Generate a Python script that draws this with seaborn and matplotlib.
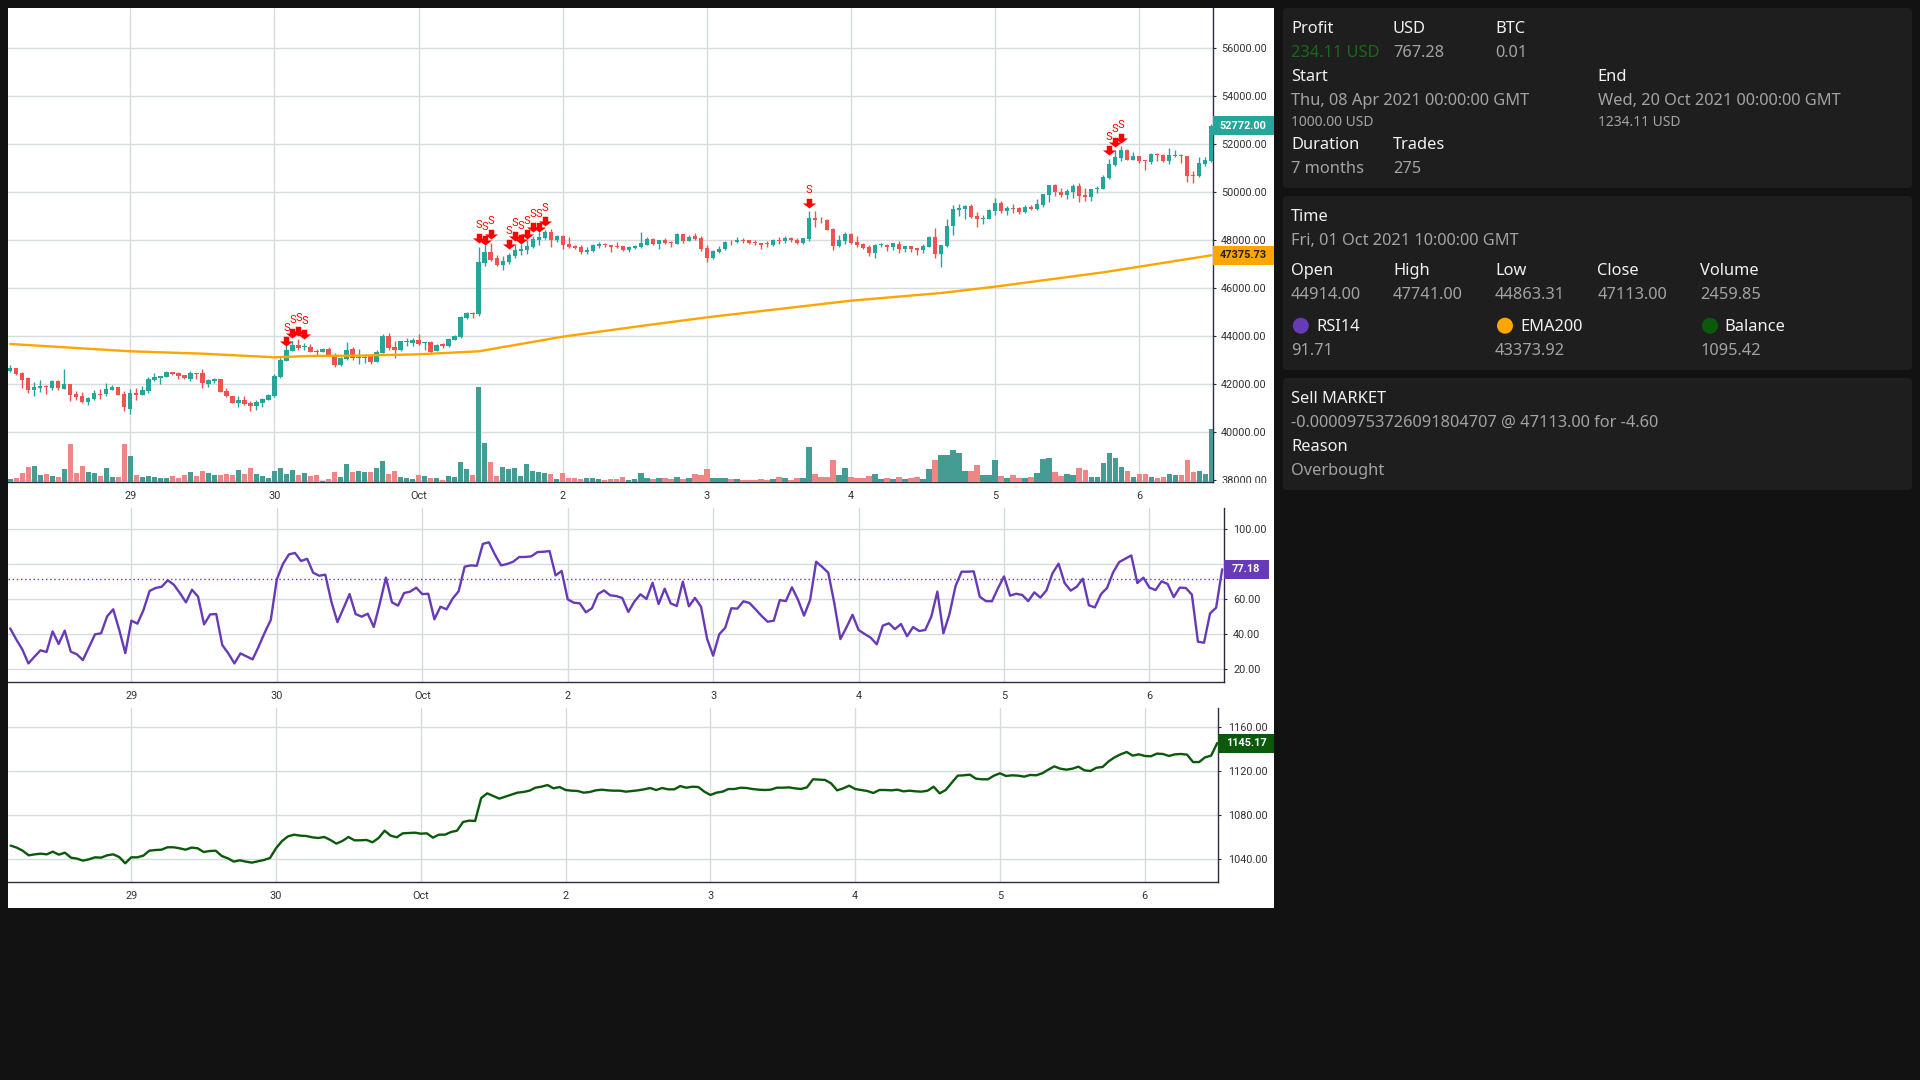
import numpy as np
import pandas as pd
import seaborn as sns
import matplotlib.pyplot as plt
from matplotlib.path import Path
from matplotlib.patches import Rectangle, FancyBboxPatch, Circle
from matplotlib.transforms import Bbox, IdentityTransform

# hourly candles, Sep 28 04:00 to Oct 6 12:00
opens = [
    42540,42680,42490,42260,41760,41860,41930,41850,42150,41820,
    42010,41600,41510,41260,41390,41600,41600,41760,41890,41600,
    40990,41640,41560,41720,42180,42280,42310,42510,42470,42390,
    42220,42470,42470,42010,42140,42220,41720,41510,41220,41350,
    41220,41100,41220,41350,41510,42310,42970,43390,43640,43570,
    43560,43400,43350,43470,43220,42800,43060,43470,43100,43100,
    43180,42930,43300,44010,43560,43430,43750,43730,43830,43720,
    43760,43390,43680,43600,43850,43970,44760,44970,44914,47050,
    47510,47260,46970,47100,47350,47570,47600,47720,48010,48100,
    48350,48010,48180,47850,47760,47720,47510,47550,47760,47850,
    47800,47760,47760,47600,47690,47720,47800,48050,47850,48010,
    47930,47850,48260,47970,48180,48100,47680,47260,47510,47640,
    47940,47930,48010,48010,47930,47890,47870,47800,48000,47970,
    48100,48010,47890,48050,48930,48860,48850,48470,47760,47970,
    48260,47930,47850,47720,47470,47790,47800,47720,47850,47640,
    47760,47680,47600,47720,48140,47430,47760,48600,49260,49300,
    49430,49010,48890,48890,49220,49550,49220,49360,49350,49180,
    49390,49300,49470,49890,50300,50010,49890,50010,50260,49890,
    49800,50140,50140,50600,51140,51430,51760,51350,51510,51350,
    51260,51600,51550,51300,51530,51550,51510,50700,50680,51180,
    51300]
closes = [
    42680,42440,42190,41760,41890,41930,41880,42150,41860,42010,
    41560,41470,41260,41430,41640,41570,41800,41890,41560,41060,
    41640,41560,41760,42220,42310,42350,42510,42440,42350,42280,
    42470,42420,42060,42180,42210,41680,41510,41220,41350,41180,
    41100,41260,41390,41560,42350,43010,43430,43640,43510,43610,
    43350,43360,43470,43220,42800,43100,43430,43100,43150,43150,
    42930,43350,44010,43510,43430,43800,43790,43850,43680,43760,
    43350,43640,43600,43890,44010,44800,44970,44930,47113,47510,
    47180,46970,47140,47390,47600,47640,47760,48050,48140,48350,
    48010,48180,47800,47720,47680,47510,47600,47800,47850,47790,
    47740,47720,47600,47720,47760,47890,48050,47850,48010,47890,
    47890,48260,47970,48140,48050,47640,47260,47550,47640,47930,
    47920,48010,47970,47890,47890,47820,47850,48010,47970,48100,
    48010,47890,48100,48930,48850,48830,48430,47760,48010,48260,
    47890,47800,47680,47470,47800,47850,47720,47890,47640,47760,
    47640,47610,47760,48140,47430,47800,48600,49300,49350,49430,
    48970,48890,48920,49260,49550,49220,49350,49320,49180,49390,
    49300,49510,49930,50300,50010,49890,50050,50260,49850,49800,
    50140,50180,50640,51180,51470,51760,51350,51510,51300,51300,
    51600,51550,51300,51550,51570,51510,50680,50680,51220,51350,
    52772]
highs = [
    42800,42680,42530,42320,42110,42180,41960,42190,42180,42640,
    42010,41720,41680,41460,41760,41790,42060,41960,41890,41720,
    41800,41830,41930,42320,42470,42350,42560,42510,42510,42390,
    42560,42470,42640,42220,42250,42220,41830,41510,41510,41510,
    41290,41350,41440,41600,42430,43180,43640,43800,43890,43740,
    43680,43490,43510,43560,43310,43140,43760,43560,43470,43260,
    43260,43430,44100,44140,43800,43800,43920,43930,44100,43760,
    43800,43680,43710,43930,44050,44850,45010,45010,47741,47800,
    47890,47390,47350,47470,47850,47850,48010,48180,48350,48430,
    48470,48220,48220,48140,47800,47800,47720,47850,47930,47890,
    47800,47930,47760,47760,47800,48350,48140,48100,48010,48100,
    47970,48300,48260,48220,48300,48180,47800,47600,47760,47970,
    48010,48140,48100,48010,48010,47890,47970,48050,48140,48180,
    48140,48100,48100,49220,49220,48970,48890,48510,48220,48350,
    48300,48180,47890,47800,47850,47890,47850,47890,47970,47760,
    47760,47680,47850,48180,48510,47800,48890,49470,49510,49470,
    49510,49180,49050,49300,49760,49640,49430,49510,49390,49470,
    49470,49720,49930,50300,50350,50180,50140,50350,50390,50180,
    50140,50260,50720,51390,51760,51930,51800,51680,51510,51350,
    51640,51640,51600,51850,51760,51600,51510,50890,51470,51470,
    52850]
lows = [
    42510,42400,41860,41650,41530,41690,41610,41760,41760,41790,
    41320,41350,41240,41140,41350,41380,41530,41760,41560,40890,
    40760,41360,41560,41650,42130,42010,42310,42390,42220,42210,
    42140,42220,41860,41890,42070,41680,41460,41220,41070,41140,
    40900,40930,41070,41350,41460,42260,42970,43390,43430,43430,
    43350,43220,43350,43220,42720,42760,43010,43010,42850,42890,
    42850,42930,43310,43430,43100,43400,43610,43610,43640,43430,
    43300,43370,43510,43550,43850,43930,44730,44780,44863.31,46930,
    47140,46930,46760,47010,47260,47390,47430,47680,47800,48050,
    47720,47930,47640,47680,47640,47430,47430,47510,47680,47720,
    47510,47680,47550,47510,47640,47680,47800,47800,47640,47850,
    47720,47850,47890,47970,48010,47550,47100,47220,47470,47600,
    47800,47890,47890,47850,47800,47640,47720,47760,47850,47890,
    47930,47850,47850,47970,48550,48720,48430,47600,47720,47850,
    47850,47720,47640,47350,47260,47720,47550,47600,47470,47510,
    47510,47390,47470,47720,47260,46890,47720,48220,49010,48890,
    48930,48550,48680,48890,49050,49140,49050,49140,49100,49140,
    49260,49260,49390,49600,49850,49800,49720,49760,49600,49640,
    49640,49970,50140,50550,51100,51300,51350,51350,51220,50930,
    51180,51300,51260,51180,51470,51220,50430,50390,50640,51100,
    51260]
volumes = [
    69,95,225,381,407,173,199,147,121,329,
    979,225,407,251,225,147,355,121,121,979,
    667,173,121,147,121,95,95,147,95,173,
    251,147,277,225,173,173,199,173,303,199,
    355,199,147,95,277,355,199,303,173,225,
    147,173,26,69,251,121,459,251,277,251,
    251,355,537,199,277,121,95,69,173,147,
    95,95,43,147,121,511,329,173,2459.85,1005,
    511,147,381,329,355,147,459,277,251,225,
    199,69,225,95,95,69,95,95,69,43,
    78,78,130,52,78,234,104,78,104,104,
    78,130,78,104,208,182,338,104,104,104,
    78,78,52,52,52,78,52,78,130,104,
    52,104,104,909,208,130,130,572,182,364,
    130,104,104,156,208,78,104,78,130,78,
    104,130,78,338,572,701,701,831,753,286,
    286,442,182,182,572,156,104,182,104,104,
    130,234,598,624,260,156,208,182,364,312,
    130,130,494,753,624,390,286,130,208,208,
    130,104,130,208,182,182,572,260,286,208,
    1377]
rsi = [
    43.4,37.1,31.4,23.4,27.2,30.9,29.9,41.7,34.5,42.1,
    30.1,28.6,25.3,32.6,40.0,40.6,50.3,54.3,42.5,29.3,
    47.8,46.1,53.9,64.8,66.5,67.2,70.9,68.4,63.6,58.3,
    65.5,61.5,45.7,51.4,51.6,33.9,29.1,23.4,29.1,27.4,
    25.7,33.0,41.0,48.2,71.4,80.2,85.7,86.5,81.9,83.2,
    75.2,73.5,74.1,58.7,47.0,54.9,63.0,51.6,50.1,51.8,
    44.2,57.7,72.4,58.3,56.4,63.6,64.4,66.7,63.0,63.2,
    48.6,55.8,54.3,60.4,64.6,78.7,79.4,79.2,91.71,92.6,
    85.5,79.4,80.2,81.5,84.2,84.2,84.6,87.0,87.2,87.6,
    73.7,76.2,60.0,58.1,57.7,52.6,54.9,63.0,65.1,62.3,
    61.9,60.8,52.8,58.7,62.9,60.2,69.5,57.3,66.1,57.7,
    56.2,70.1,56.0,60.8,55.8,37.5,27.8,40.0,43.8,54.9,
    54.7,58.9,57.9,54.3,50.5,47.2,47.8,59.6,59.0,66.9,
    59.8,50.7,59.6,81.5,78.5,75.2,57.7,37.3,44.0,51.2,
    42.5,40.2,38.1,34.3,45.0,46.3,43.0,45.9,38.9,44.2,
    41.9,42.5,50.1,64.4,40.6,51.6,67.6,75.8,75.8,76.0,
    61.5,59.0,58.9,66.3,73.1,62.1,63.2,62.5,59.0,64.0,
    61.0,65.1,74.9,80.4,69.3,65.0,67.2,71.8,56.6,55.4,
    63.0,66.5,75.4,81.3,83.2,85.1,69.3,72.4,66.7,65.3,
    70.3,68.8,61.3,66.7,66.5,62.7,35.8,35.2,52.0,55.2,
    77.18]
balance = [
    1052.4,1050.6,1047.8,1043.6,1044.5,1045.1,1044.5,1046.9,1044.2,1046.0,
    1041.5,1040.6,1038.8,1040.0,1041.8,1041.5,1043.6,1044.5,1042.1,1036.4,
    1041.8,1041.8,1043.3,1047.8,1048.4,1048.7,1050.9,1050.9,1050.0,1048.7,
    1050.6,1050.0,1046.6,1047.5,1047.8,1043.0,1040.9,1037.9,1039.1,1037.9,
    1037.0,1038.2,1039.4,1041.2,1050.0,1056.6,1060.8,1062.3,1061.4,1061.1,
    1059.9,1059.3,1060.2,1057.5,1054.2,1056.6,1060.2,1057.2,1057.2,1057.5,
    1055.4,1059.3,1065.9,1061.4,1059.9,1063.5,1063.8,1064.1,1063.2,1063.5,
    1059.6,1062.3,1062.3,1064.7,1065.9,1073.8,1075.0,1074.7,1095.42,1099.7,
    1097.3,1094.9,1096.7,1098.5,1100.3,1100.9,1102.1,1104.8,1105.7,1107.2,
    1104.2,1105.4,1102.7,1102.1,1101.8,1100.3,1100.9,1102.4,1103.0,1102.4,
    1102.1,1102.1,1101.2,1101.8,1102.4,1103.3,1104.5,1102.7,1104.5,1103.3,
    1103.3,1106.3,1104.8,1105.7,1105.4,1101.2,1098.2,1100.3,1101.2,1103.6,
    1103.6,1104.8,1104.5,1103.6,1103.0,1102.7,1103.0,1104.8,1104.8,1105.1,
    1104.2,1103.6,1105.1,1112.4,1112.1,1111.8,1108.7,1102.4,1104.2,1106.6,
    1103.6,1102.7,1101.8,1100.0,1102.7,1102.7,1102.4,1103.0,1101.5,1102.1,
    1101.5,1101.2,1102.1,1105.7,1099.7,1102.7,1109.3,1115.7,1116.0,1116.6,
    1113.0,1112.4,1112.4,1115.7,1117.8,1115.4,1116.0,1115.7,1114.8,1116.3,
    1116.0,1117.8,1121.1,1124.1,1122.0,1121.1,1122.0,1123.8,1120.5,1119.9,
    1122.9,1123.5,1128.6,1132.3,1135.0,1137.1,1133.8,1135.0,1133.5,1133.2,
    1135.6,1135.3,1133.5,1135.0,1135.3,1134.7,1128.0,1128.0,1132.3,1133.8,
    1145.17]

# EMA200 is read at a few candles only, it is almost straight in between
ema_idx = [0, 10, 20, 32, 44, 50, 58, 68, 78, 92, 105, 116, 128, 140, 155, 164, 182, 188, 200]
ema_vals = [43680, 43527, 43375, 43277, 43125, 43180, 43194, 43250, 43373.92, 43984, 44429,
            44790, 45137, 45484, 45804, 46068, 46665, 46900, 47375.73]

# sell markers: candle and price of the arrow tip
sell_idx = [46, 47, 48, 49, 78, 79, 80, 83, 84, 85, 86, 87, 88, 89, 133, 183, 184, 185]
sell_tip = [43583, 43930, 44014, 43875, 47901, 47790, 48040, 47638, 47985, 47846, 48040,
            48332, 48360, 48610, 49359, 51540, 51901, 52068]

day_idx = [20, 44, 68, 92, 116, 140, 164, 188]
day_labels = ['29', '30', 'Oct', '2', '3', '4', '5', '6']
price_ticks = [38000, 40000, 42000, 44000, 46000, 48000, 50000, 52000, 54000, 56000]
rsi_ticks = [20, 40, 60, 80, 100]
balance_ticks = [1040, 1080, 1120, 1160]

TEAL = '#26A69A'
RED = '#EF5350'
GRID = '#D6DCDE'
AXIS = '#2B2B43'
ORANGE = '#FFA500'
PURPLE = '#673AB7'
GREEN = '#0B5A0B'
W, H = 1920, 1080

sns.set_theme(style='white')
plt.rcParams['font.family'] = ['Roboto', 'DejaVu Sans']

df = pd.DataFrame({'i': np.arange(len(opens)), 'open': opens, 'high': highs, 'low': lows,
                   'close': closes, 'volume': volumes, 'rsi': rsi, 'balance': balance})
df['up'] = df['close'] >= df['open']

fig = plt.figure(figsize=(19.2, 10.8), dpi=100, facecolor='#121212')


def pane(x0, y0, x1, y1, zorder=2):
    return fig.add_axes([x0 / W, 1 - y1 / H, (x1 - x0) / W, (y1 - y0) / H], zorder=zorder)


def style_pane(ax, xlim, ylim, yticks, pad, hidden=()):
    ax.set_xlim(*xlim)
    ax.set_ylim(*ylim)
    ax.patch.set_visible(False)
    ax.set_xticks(day_idx, day_labels)
    # a tag covers some tick labels in the original
    ax.set_yticks(yticks, ['' if v in hidden else f'{v:.2f}' for v in yticks])
    ax.yaxis.tick_right()
    ax.set_xlabel('')
    ax.set_ylabel('')
    ax.grid(True, color=GRID, lw=1.0)
    ax.set_axisbelow(True)
    for name in ['left', 'top']:
        ax.spines[name].set_visible(False)
    for name in ['right', 'bottom']:
        ax.spines[name].set_color(AXIS)
        ax.spines[name].set_linewidth(1.0)
    ax.tick_params(axis='x', length=2.2, width=0.8, color=AXIS, pad=4.4, labelsize=7.8, labelcolor='#333333')
    ax.tick_params(axis='y', length=2.2, width=0.8, color=AXIS, pad=pad, labelsize=7.8, labelcolor='#333333')


def value_tag(ax, val, text, x0, x1, xc, fc, tc):
    ypx = ax.transData.transform((0, val))[1]
    fig.add_artist(Rectangle((x0, ypx - 9.5), x1 - x0, 19, transform=IdentityTransform(), fc=fc, ec='none', zorder=10))
    fig.text(xc, ypx, text, transform=IdentityTransform(), color=tc, fontsize=7.8, fontweight='bold',
             ha='center', va='center', zorder=11)


# page background, white chart block, info cards
page = fig.add_axes([0, 0, 1, 1], zorder=0)
page.set_xlim(0, W)
page.set_ylim(H, 0)
page.axis('off')
page.add_patch(Rectangle((8, 8), 1266, 900, fc='white', ec='none'))
for y0, y1 in [(8, 188), (196, 370), (378, 490)]:
    page.add_patch(FancyBboxPatch((1283, y0), 629, y1 - y0, boxstyle='round,pad=0,rounding_size=4',
                                  fc='#1E1E1E', ec='none'))

HEAD = '#F2F2F2'
VAL = '#A3A3A3'
BIG = 11.8
SMALL = 10.0
panel_texts = [
    (1291, 29, 'Profit', HEAD, BIG), (1393, 29, 'USD', HEAD, BIG), (1495, 29, 'BTC', HEAD, BIG),
    (1291, 53, '234.11 USD', '#176B17', BIG), (1393, 53, '767.28', VAL, BIG), (1495, 53, '0.01', VAL, BIG),
    (1291, 77, 'Start', HEAD, BIG), (1597.5, 77, 'End', HEAD, BIG),
    (1291, 101, 'Thu, 08 Apr 2021 00:00:00 GMT', VAL, BIG), (1597.5, 101, 'Wed, 20 Oct 2021 00:00:00 GMT', VAL, BIG),
    (1291, 122.5, '1000.00 USD', VAL, SMALL), (1597.5, 122.5, '1234.11 USD', VAL, SMALL),
    (1291, 145, 'Duration', HEAD, BIG), (1393, 145, 'Trades', HEAD, BIG),
    (1291, 169, '7 months', VAL, BIG), (1393, 169, '275', VAL, BIG),
    (1291, 217, 'Time', HEAD, BIG),
    (1291, 241, 'Fri, 01 Oct 2021 10:00:00 GMT', VAL, BIG),
    (1291, 271, 'Open', HEAD, BIG), (1393, 271, 'High', HEAD, BIG), (1495, 271, 'Low', HEAD, BIG),
    (1597.5, 271, 'Close', HEAD, BIG), (1700, 271, 'Volume', HEAD, BIG),
    (1291, 295, '44914.00', VAL, BIG), (1393, 295, '47741.00', VAL, BIG), (1495, 295, '44863.31', VAL, BIG),
    (1597.5, 295, '47113.00', VAL, BIG), (1700, 295, '2459.85', VAL, BIG),
    (1316, 327, 'RSI14', HEAD, BIG), (1520, 327, 'EMA200', HEAD, BIG), (1724.5, 327, 'Balance', HEAD, BIG),
    (1291, 351, '91.71', VAL, BIG), (1495, 351, '43373.92', VAL, BIG), (1700, 351, '1095.42', VAL, BIG),
    (1291, 398.6, 'Sell MARKET', HEAD, BIG),
    (1291, 423, '-0.00009753726091804707 @ 47113.00 for -4.60', VAL, BIG),
    (1291, 447, 'Reason', HEAD, BIG),
    (1291, 471, 'Overbought', VAL, BIG),
]
for x, y, s, c, size in panel_texts:
    page.text(x, y, s, color=c, fontsize=size, ha='left', va='center', family='Noto Sans')
for x, c in [(1300.8, PURPLE), (1505, ORANGE), (1710, GREEN)]:
    page.add_patch(Circle((x, 325.7), 8, fc=c, ec='none'))

# price pane
ax = pane(8, 8, 1213, 482)
colors = [TEAL if u else RED for u in df['up']]
ax.vlines(df['i'], df['low'], df['high'], colors=colors, lw=1.0, zorder=3)
ax.bar(df['i'], (df['close'] - df['open']).abs(), bottom=df[['open', 'close']].min(axis=1),
       width=0.72, color=colors, lw=0, zorder=3)
sns.lineplot(x=ema_idx, y=ema_vals, color=ORANGE, lw=1.7, errorbar=None, ax=ax, zorder=4)

arrow = Path([(0, 0), (-0.68, 0.52), (-0.28, 0.52), (-0.28, 1), (0.28, 1), (0.28, 0.52), (0.68, 0.52), (0, 0)], closed=True)
ax.scatter(sell_idx, sell_tip, marker=arrow, s=196, color='#FF0000', lw=0, zorder=5)
for i, p in zip(sell_idx, sell_tip):
    ax.annotate('S', xy=(i, p), xytext=(0, 18), textcoords='offset pixels', color='#FF0000',
                fontsize=8, ha='center', va='center', zorder=5)
style_pane(ax, (-0.37, 200.28), (37929, 57679), price_ticks, 3.6)

# clip the lowest price label at the bottom of the pane like the original
low_label = ax.get_yticklabels()[0]
low_label.set_clip_box(Bbox([[1213, H - 483], [1274, H - 470]]))
low_label.set_clip_on(True)

# volume histogram sits over the price pane
axv = pane(8, 8, 1213, 482, zorder=3)
sns.barplot(data=df, x='i', y='volume', hue='up', palette={True: '#35AB9F', False: '#FF7575'}, native_scale=True,
            dodge=False, width=0.9, errorbar=None, legend=False, lw=0, ax=axv)
axv.set_xlim(-0.37, 200.28)
axv.set_ylim(0, 12316)
axv.axis('off')

# RSI pane
ax_rsi = pane(8, 508, 1224, 682.3)
sns.lineplot(data=df, x='i', y='rsi', color=PURPLE, lw=1.7, errorbar=None, ax=ax_rsi, zorder=4)
ax_rsi.axhline(71.4, color=PURPLE, lw=1.0, ls=(0, (1, 2)), zorder=3)
style_pane(ax_rsi, (-0.36, 200.3), (12.6, 112.2), rsi_ticks, 4.4, hidden=(80,))

# balance pane
ax_bal = pane(8, 708, 1218.4, 882.3)
sns.lineplot(data=df, x='i', y='balance', color=GREEN, lw=1.7, errorbar=None, ax=ax_bal, zorder=4)
style_pane(ax_bal, (-0.43, 200.2), (1019.2, 1176.9), balance_ticks, 5.0)

value_tag(ax, 52772, '52772.00', 1213, 1274, 1243, TEAL, 'white')
value_tag(ax, 47375.73, '47375.73', 1213, 1274, 1243, ORANGE, '#222222')
value_tag(ax_rsi, 77.18, '77.18', 1224, 1269, 1246, PURPLE, 'white')
value_tag(ax_bal, 1145.17, '1145.17', 1218.4, 1274, 1246, GREEN, 'white')

plt.savefig('out.png', dpi=100, facecolor=fig.get_facecolor())
